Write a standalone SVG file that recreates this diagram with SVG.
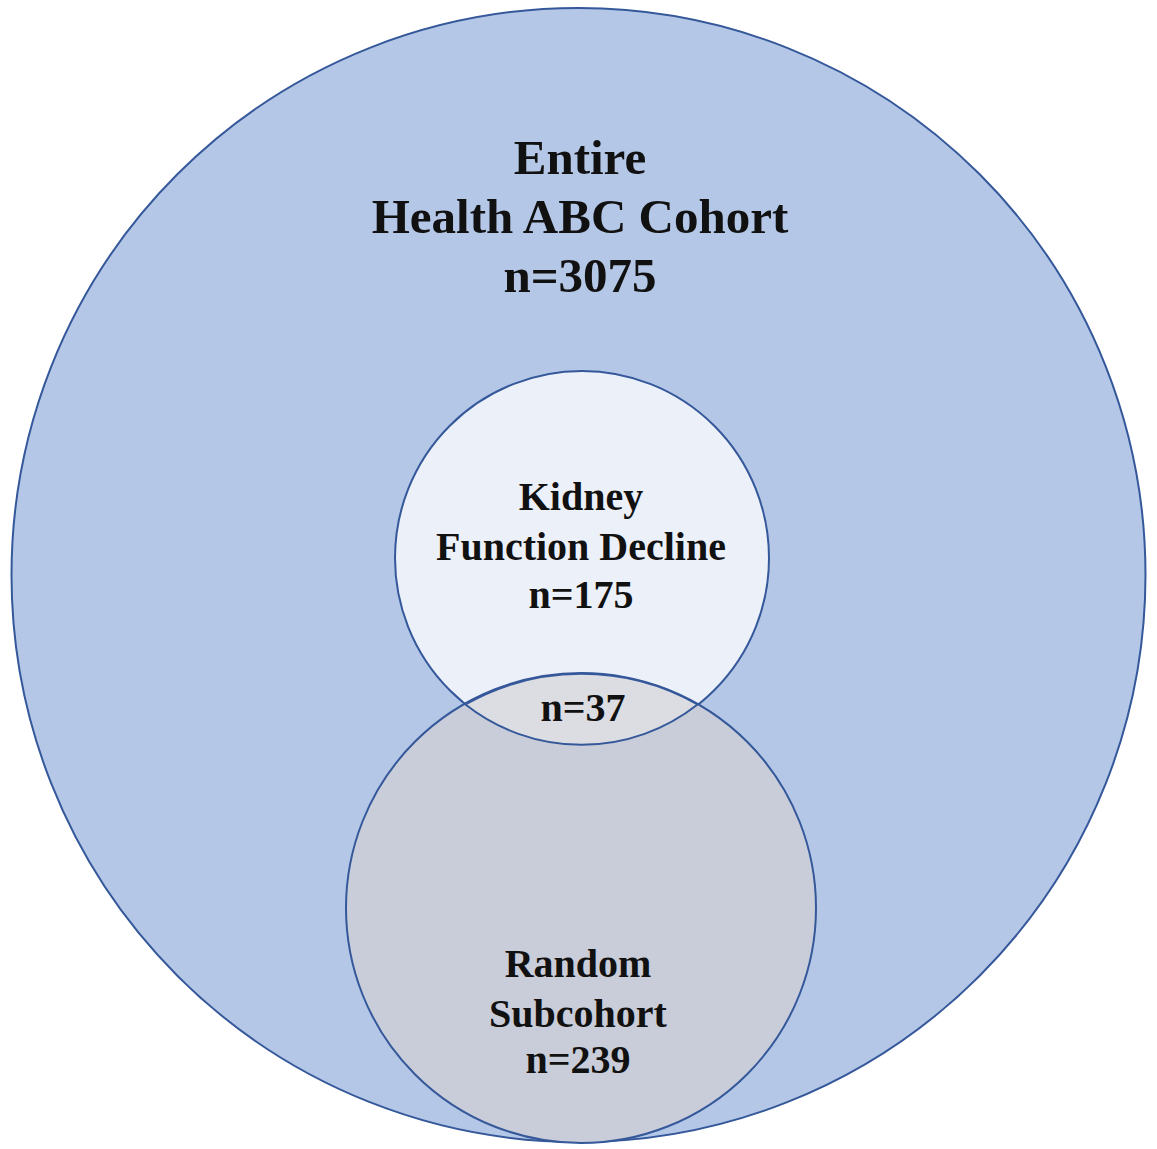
<svg xmlns="http://www.w3.org/2000/svg" width="1157" height="1149" viewBox="0 0 1157 1149">
<style>
.c{stroke:#35589a;stroke-width:2}
.t{font-family:"Liberation Serif","Times New Roman",serif;font-weight:bold;fill:#111;text-anchor:middle}
.big{font-size:49px}
.sm{font-size:40px}
</style>
<rect width="1157" height="1149" fill="#ffffff"/>
<g id="entire-cohort">
<circle class="c" cx="578.5" cy="575" r="567" fill="#b4c7e7"/>
<text class="t big" x="580" y="174">Entire</text>
<text class="t big" x="580" y="233">Health ABC Cohort</text>
<text class="t big" x="580" y="292">n=3075</text>
</g>
<g id="kidney-decline">
<circle class="c" cx="582" cy="558" r="187" fill="#ecf0f9"/>
<text class="t sm" x="581" y="510">Kidney</text>
<text class="t sm" x="581" y="560">Function Decline</text>
<text class="t sm" x="581" y="608">n=175</text>
</g>
<g id="random-subcohort">
<circle class="c" cx="581" cy="908" r="235" fill="#c8cdd9"/>
<text class="t sm" x="578" y="977">Random</text>
<text class="t sm" x="578" y="1027">Subcohort</text>
<text class="t sm" x="578" y="1073">n=239</text>
</g>
<g id="overlap">
<path class="c" d="M465.5 704.5 A235 235 0 0 1 697.5 704.5 A187 187 0 0 1 465.5 704.5 Z" fill="#dcdde2" stroke-width="1.5"/>
<text class="t sm" x="583" y="721">n=37</text>
</g>
<g id="connectors"></g>
</svg>
